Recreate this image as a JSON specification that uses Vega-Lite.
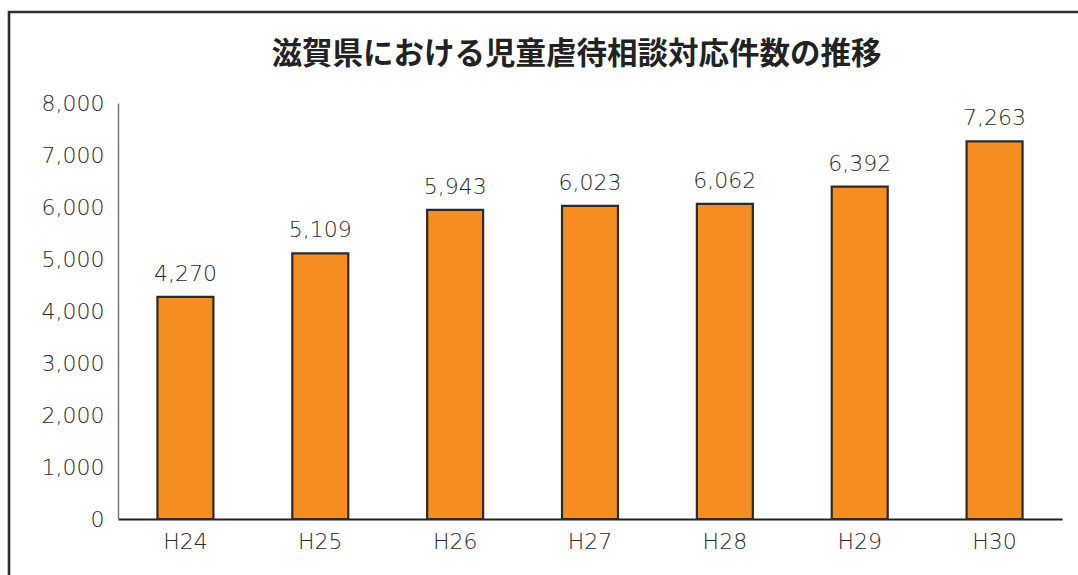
{
  "$schema": "https://vega.github.io/schema/vega-lite/v6.json",
  "autosize": {"type": "none"},
  "width": 1069,
  "height": 563,
  "padding": {"left": 9, "top": 12, "right": 0, "bottom": 0},
  "background": "white",
  "title": {
    "text": "滋賀県における児童虐待相談対応件数の推移",
    "font": "Noto Sans CJK JP",
    "fontSize": 30.5,
    "fontWeight": "bold",
    "color": "#222222",
    "anchor": "middle",
    "frame": "group",
    "dx": 33,
    "offset": -58
  },
  "data": {
    "values": [
      {"year": "H24", "count": 4270},
      {"year": "H25", "count": 5109},
      {"year": "H26", "count": 5943},
      {"year": "H27", "count": 6023},
      {"year": "H28", "count": 6062},
      {"year": "H29", "count": 6392},
      {"year": "H30", "count": 7263}
    ]
  },
  "encoding": {
    "x": {
      "field": "year",
      "type": "nominal",
      "sort": null,
      "title": null,
      "scale": {"range": [109, 1053], "paddingInner": 0.585, "paddingOuter": 0.2925},
      "axis": {
        "offset": -56,
        "labelAngle": 0,
        "ticks": false,
        "domainColor": "#222222",
        "domainWidth": 2,
        "labelFont": "DejaVu Sans",
        "labelFontWeight": 200,
        "labelFontSize": 22,
        "labelColor": "#2A2A2A",
        "labelPadding": 12
      }
    },
    "y": {
      "field": "count",
      "type": "quantitative",
      "title": null,
      "scale": {"domain": [0, 8000], "nice": false, "range": [507, 91]},
      "axis": {
        "offset": -109,
        "values": [0, 1000, 2000, 3000, 4000, 5000, 6000, 7000, 8000],
        "format": ",.0f",
        "grid": false,
        "ticks": false,
        "domainColor": "#777777",
        "domainWidth": 1.5,
        "labelFont": "DejaVu Sans",
        "labelFontWeight": 200,
        "labelFontSize": 22,
        "labelColor": "#2A2A2A",
        "labelPadding": 14
      }
    }
  },
  "layer": [
    {
      "mark": {"type": "bar", "fill": "#F58D20", "stroke": "#2A2A2A", "strokeWidth": 2.2}
    },
    {
      "mark": {
        "type": "text",
        "baseline": "alphabetic",
        "dy": -16,
        "font": "DejaVu Sans",
        "fontWeight": 200,
        "fontSize": 22,
        "color": "#2A2A2A"
      },
      "encoding": {
        "text": {"field": "count", "type": "quantitative", "format": ",.0f"}
      }
    }
  ],
  "config": {
    "view": {
      "stroke": "#2E2E2E",
      "strokeWidth": 2.6,
      "strokeDash": [1069, 1632, 580]
    }
  }
}
